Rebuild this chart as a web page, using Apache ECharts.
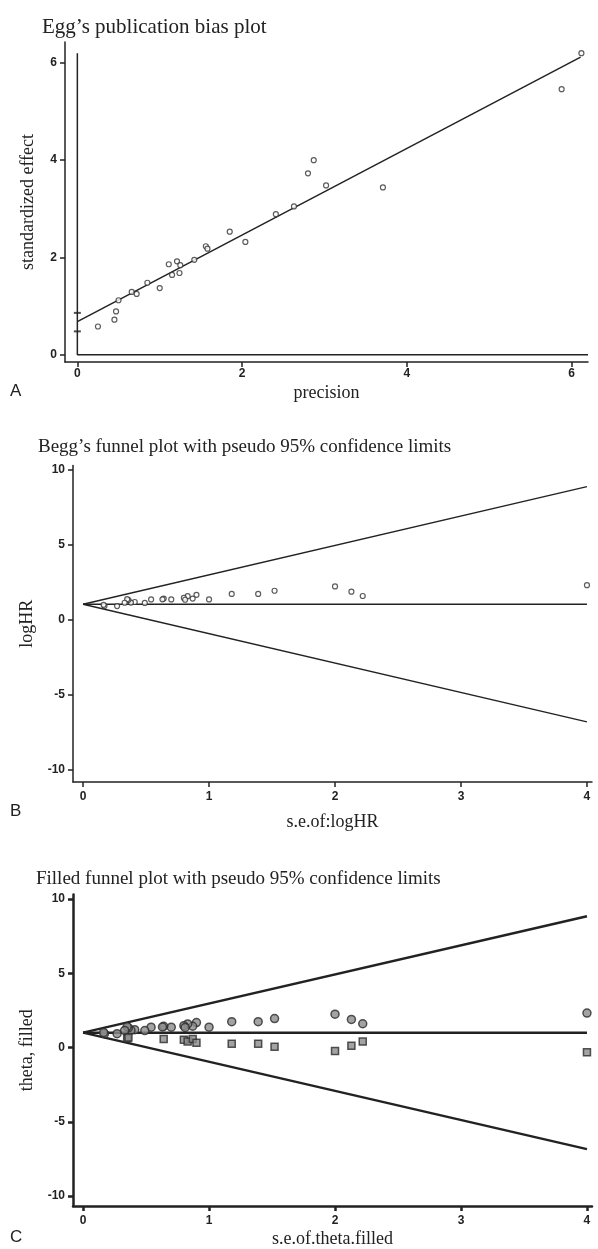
<!DOCTYPE html>
<html>
<head>
<meta charset="utf-8">
<script src="https://cdn.jsdelivr.net/npm/echarts@6/dist/echarts.min.js"></script>
<style>
  html, body { margin: 0; padding: 0; background: #ffffff; }
  #chart { width: 598px; height: 1249px; }
</style>
</head>
<body>
<div id="chart"></div>
<script>
// ---- Panel A: Egger's regression (precision vs standardized effect) ----
const eggPrecision = [0.25, 0.45, 0.47, 0.50, 0.66, 0.72, 0.85, 1.00, 1.11, 1.15, 1.21, 1.25, 1.24,
  1.42, 1.56, 1.58, 1.85, 2.04, 2.41, 2.63, 2.80, 2.87, 3.02, 3.71, 5.88, 6.12];
const eggStdEffect = [0.58, 0.72, 0.89, 1.12, 1.29, 1.25, 1.48, 1.37, 1.86, 1.64, 1.92, 1.84, 1.68,
  1.95, 2.23, 2.18, 2.53, 2.32, 2.89, 3.05, 3.73, 4.00, 3.48, 3.44, 5.46, 6.20];
const eggFitX = [0, 6.11];
const eggFitY = [0.68, 6.12];
const eggInterceptCI = [0.48, 0.86];
const eggRefX = [0, 0, 6.2];
const eggRefY = [6.2, 0, 0];
const eggTicks = [0, 2, 4, 6];

// ---- Panel B: Begg's funnel (s.e. of logHR vs logHR) ----
const beggSE = [4.00, 2.22, 2.13, 2.00, 1.52, 1.39, 1.18, 1.00, 0.90, 0.87, 0.83, 0.80, 0.81,
  0.70, 0.64, 0.63, 0.54, 0.49, 0.41, 0.38, 0.36, 0.35, 0.33, 0.27, 0.17, 0.163];
const beggLogHR = [2.32, 1.60, 1.89, 2.24, 1.95, 1.74, 1.74, 1.37, 1.68, 1.43, 1.59, 1.47, 1.35,
  1.37, 1.43, 1.38, 1.37, 1.14, 1.20, 1.16, 1.33, 1.39, 1.15, 0.93, 0.93, 1.01];
const beggLineSE = [0, 4];
const beggCenter = [1.05, 1.05];
const beggUpper = [1.05, 8.89];
const beggLower = [1.05, -6.79];

// ---- Panel C: filled funnel (observed studies + imputed studies) ----
const filledSE = [0.35, 0.36, 0.64, 0.80, 0.83, 0.87, 0.90, 1.18, 1.39, 1.52, 2.00, 2.13, 2.22, 4.00];
const filledTheta = [0.61, 0.67, 0.57, 0.53, 0.41, 0.57, 0.32, 0.26, 0.26, 0.05, -0.24, 0.11, 0.40, -0.32];
const filledLineSE = [0, 4];
const filledCenter = [1.00, 1.00];
const filledUpper = [1.00, 8.84];
const filledLower = [1.00, -6.84];

const funnelYTicks = [-10, -5, 0, 5, 10];
const funnelXTicks = [0, 1, 2, 3, 4];

const zip = (xs, ys) => xs.map((x, i) => [x, ys[i]]);

const ink = '#222222';
const tickFont = { fontFamily: 'Liberation Sans', fontWeight: 'bold', fontSize: 12, color: ink };
const nameFont = { fontFamily: 'Liberation Serif', fontSize: 18, color: ink };
const titleFont = (size) => ({ fontFamily: 'Liberation Serif', fontSize: size, fontWeight: 'normal', color: ink });

function valueAxis(gridIndex, min, max, ticks, lw, labelMargin, extra) {
  return Object.assign({
    type: 'value', gridIndex, min, max,
    splitLine: { show: false },
    axisLine: { show: true, onZero: false, lineStyle: { color: ink, width: lw } },
    axisTick: { show: true, length: 5, customValues: ticks, lineStyle: { color: ink, width: lw } },
    axisLabel: Object.assign({ customValues: ticks, margin: labelMargin }, tickFont),
    nameLocation: 'middle',
    nameTextStyle: nameFont
  }, extra);
}

const hollow = { color: '#ffffff', borderColor: '#333333', borderWidth: 1.2 };
const grey = { color: '#8c8c8c', borderColor: '#2a2a2a', borderWidth: 1.5 };

function line(xi, data, width) {
  return {
    type: 'line', xAxisIndex: xi, yAxisIndex: xi, data, symbol: 'none',
    lineStyle: { color: ink, width }, silent: true, z: 2
  };
}

const option = {
  animation: false,
  backgroundColor: '#ffffff',
  title: [
    { text: "Egg\u2019s publication bias plot", left: 37, top: 12, textStyle: titleFont(21) },
    { text: "Begg\u2019s funnel plot with pseudo 95% confidence limits", left: 33, top: 433, textStyle: titleFont(19) },
    { text: "Filled funnel plot with pseudo 95% confidence limits", left: 31, top: 865, textStyle: titleFont(19) }
  ],
  graphic: [
    { type: 'text', left: 10, top: 383, style: { text: 'A', font: '17px "Liberation Sans"', fill: ink } },
    { type: 'text', left: 10, top: 803, style: { text: 'B', font: '17px "Liberation Sans"', fill: ink } },
    { type: 'text', left: 10, top: 1229, style: { text: 'C', font: '17px "Liberation Sans"', fill: ink } }
  ],
  grid: [
    { left: 65, top: 42, width: 523, height: 320 },
    { left: 73, top: 465.5, width: 519, height: 316.5 },
    { left: 73, top: 894.5, width: 519, height: 314.6 }
  ],
  xAxis: [
    valueAxis(0, -0.15, 6.2, eggTicks, 1.5, 6, { name: 'precision', nameGap: 22 }),
    valueAxis(1, -0.08, 4.04, funnelXTicks, 1.5, 9, { name: 's.e.of:logHR', nameGap: 31 }),
    valueAxis(2, -0.08, 4.04, funnelXTicks, 2.5, 9, { name: 's.e.of.theta.filled', nameGap: 24 })
  ],
  yAxis: [
    valueAxis(0, -0.15, 6.43, eggTicks, 1.5, 8, { name: 'standardized effect', nameGap: 28 }),
    valueAxis(1, -10.8, 10.3, funnelYTicks, 1.5, 8, { name: 'logHR', nameGap: 30 }),
    valueAxis(2, -10.67, 10.3, funnelYTicks, 2.5, 8, { name: 'theta, filled', nameGap: 30 })
  ],
  series: [
    // A
    line(0, zip(eggRefX, eggRefY), 1.5),
    line(0, zip(eggFitX, eggFitY), 1.5),
    {
      type: 'scatter', xAxisIndex: 0, yAxisIndex: 0, symbol: 'rect', symbolSize: [7, 2],
      itemStyle: { color: ink }, data: eggInterceptCI.map(v => [0, v]), z: 3
    },
    {
      type: 'scatter', xAxisIndex: 0, yAxisIndex: 0, symbol: 'circle', symbolSize: 5,
      itemStyle: hollow, data: zip(eggPrecision, eggStdEffect), z: 4
    },
    // B
    line(1, zip(beggLineSE, beggCenter), 1.4),
    line(1, zip(beggLineSE, beggUpper), 1.4),
    line(1, zip(beggLineSE, beggLower), 1.4),
    {
      type: 'scatter', xAxisIndex: 1, yAxisIndex: 1, symbol: 'circle', symbolSize: 5,
      itemStyle: hollow, data: zip(beggSE, beggLogHR), z: 4
    },
    // C
    line(2, zip(filledLineSE, filledCenter), 2.5),
    line(2, zip(filledLineSE, filledUpper), 2.5),
    line(2, zip(filledLineSE, filledLower), 2.5),
    {
      type: 'scatter', xAxisIndex: 2, yAxisIndex: 2, symbol: 'circle', symbolSize: 8,
      itemStyle: grey, data: zip(beggSE, beggLogHR), z: 4
    },
    {
      type: 'scatter', xAxisIndex: 2, yAxisIndex: 2, symbol: 'rect', symbolSize: 7,
      itemStyle: grey, data: zip(filledSE, filledTheta), z: 4
    }
  ]
};

const chart = echarts.init(document.getElementById('chart'), null, { renderer: 'canvas' });
chart.setOption(option);
</script>
</body>
</html>
